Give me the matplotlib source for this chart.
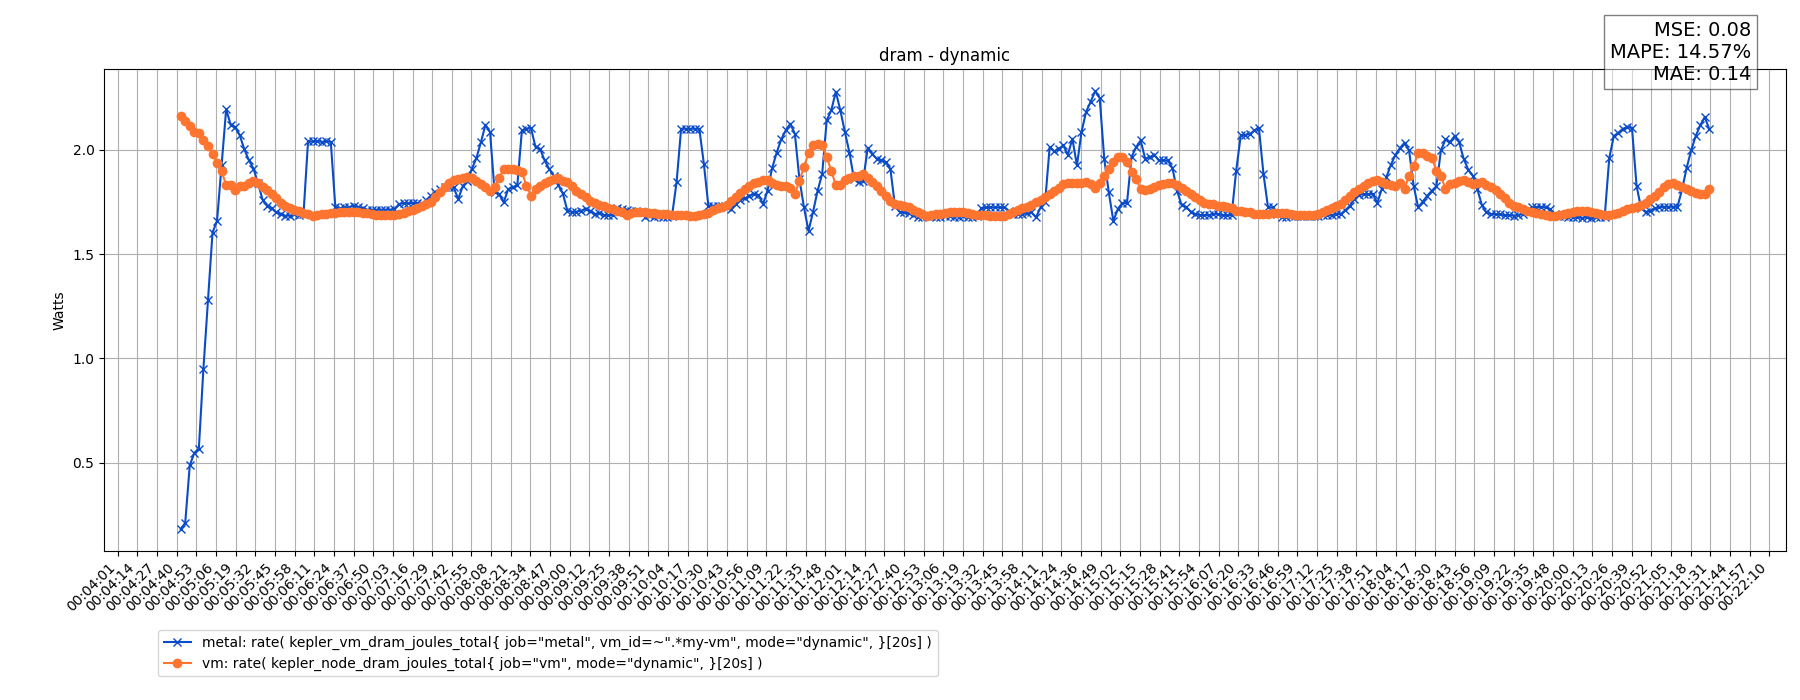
import numpy as np
import matplotlib
matplotlib.use("Agg")
import matplotlib.pyplot as plt

# ---------------- data ----------------
title = "dram - dynamic"
ylabel = "Watts"
metal_label = 'metal: rate( kepler_vm_dram_joules_total{ job="metal", vm_id=~".*my-vm", mode="dynamic", }[20s] )'
vm_label = 'vm: rate( kepler_node_dram_joules_total{ job="vm", mode="dynamic", }[20s] )'
metrics_text = "MSE: 0.08\nMAPE: 14.57%\nMAE: 0.14"

sample_start_s = 283.3   # first sample (seconds after 00:00:00)
sample_step_s = 3.0

metal = [
    0.182, 0.211, 0.487, 0.547, 0.568, 0.950, 1.279, 1.603, 1.660, 1.928,
    2.194, 2.120, 2.109, 2.069, 2.002, 1.950, 1.910, 1.840, 1.761, 1.732,
    1.719, 1.700, 1.692, 1.684, 1.684, 1.692, 1.689, 1.692, 2.040, 2.040,
    2.042, 2.038, 2.040, 2.038, 1.724, 1.719, 1.724, 1.724, 1.732, 1.727,
    1.719, 1.713, 1.713, 1.713, 1.713, 1.713, 1.713, 1.716, 1.740, 1.745,
    1.745, 1.745, 1.745, 1.740, 1.760, 1.780, 1.800, 1.810, 1.820, 1.820,
    1.820, 1.764, 1.825, 1.852, 1.908, 1.960, 2.037, 2.120, 2.085, 1.800,
    1.788, 1.748, 1.812, 1.820, 1.831, 2.093, 2.101, 2.104, 2.013, 2.005,
    1.949, 1.908, 1.876, 1.831, 1.791, 1.708, 1.703, 1.703, 1.708, 1.716,
    1.708, 1.692, 1.695, 1.687, 1.687, 1.687, 1.719, 1.716, 1.713, 1.708,
    1.708, 1.700, 1.680, 1.687, 1.680, 1.684, 1.680, 1.680, 1.684, 1.844,
    2.101, 2.101, 2.101, 2.101, 2.101, 1.933, 1.729, 1.732, 1.732, 1.729,
    1.724, 1.716, 1.740, 1.761, 1.767, 1.780, 1.788, 1.783, 1.740, 1.804,
    1.912, 1.986, 2.050, 2.093, 2.125, 2.077, 1.860, 1.724, 1.611, 1.703,
    1.804, 1.884, 2.141, 2.189, 2.278, 2.189, 2.085, 1.986, 1.860, 1.844,
    1.850, 2.008, 1.981, 1.957, 1.949, 1.941, 1.908, 1.732, 1.703, 1.700,
    1.695, 1.687, 1.680, 1.676, 1.684, 1.684, 1.680, 1.680, 1.684, 1.684,
    1.680, 1.680, 1.684, 1.680, 1.680, 1.684, 1.719, 1.724, 1.724, 1.724,
    1.724, 1.724, 1.708, 1.692, 1.692, 1.692, 1.695, 1.700, 1.676, 1.724,
    1.748, 2.013, 1.992, 2.005, 2.021, 1.976, 2.053, 1.925, 2.085, 2.181,
    2.230, 2.281, 2.249, 1.957, 1.796, 1.660, 1.716, 1.745, 1.745, 1.965,
    2.013, 2.045, 1.957, 1.965, 1.976, 1.949, 1.949, 1.949, 1.912, 1.804,
    1.735, 1.727, 1.703, 1.692, 1.687, 1.687, 1.687, 1.692, 1.692, 1.687,
    1.687, 1.687, 1.900, 2.069, 2.072, 2.075, 2.093, 2.104, 1.884, 1.724,
    1.724, 1.692, 1.680, 1.680, 1.684, 1.684, 1.684, 1.684, 1.684, 1.684,
    1.684, 1.687, 1.687, 1.687, 1.692, 1.692, 1.711, 1.732, 1.764, 1.783,
    1.788, 1.788, 1.788, 1.745, 1.812, 1.868, 1.928, 1.976, 2.008, 2.034,
    1.997, 1.828, 1.724, 1.751, 1.780, 1.804, 1.825, 1.997, 2.050, 2.037,
    2.066, 2.037, 1.957, 1.905, 1.876, 1.812, 1.735, 1.700, 1.692, 1.692,
    1.690, 1.687, 1.687, 1.684, 1.687, 1.692, 1.708, 1.724, 1.724, 1.727,
    1.724, 1.716, 1.692, 1.684, 1.684, 1.679, 1.680, 1.676, 1.674, 1.676,
    1.671, 1.676, 1.676, 1.680, 1.960, 2.066, 2.082, 2.101, 2.109, 2.104,
    1.828, 1.720, 1.703, 1.708, 1.719, 1.725, 1.727, 1.727, 1.727, 1.727,
    1.810, 1.912, 1.997, 2.066, 2.117, 2.157, 2.098,
]

vm = [
    2.162, 2.138, 2.112, 2.085, 2.082, 2.045, 2.018, 1.981, 1.936, 1.897,
    1.831, 1.831, 1.809, 1.825, 1.828, 1.841, 1.849, 1.841, 1.823, 1.807,
    1.788, 1.767, 1.743, 1.729, 1.721, 1.713, 1.705, 1.697, 1.690, 1.685,
    1.689, 1.690, 1.693, 1.695, 1.698, 1.701, 1.703, 1.701, 1.700, 1.700,
    1.698, 1.695, 1.692, 1.689, 1.687, 1.687, 1.687, 1.687, 1.690, 1.697,
    1.705, 1.713, 1.721, 1.729, 1.738, 1.750, 1.772, 1.800, 1.822, 1.842,
    1.855, 1.860, 1.867, 1.872, 1.864, 1.850, 1.836, 1.820, 1.802, 1.820,
    1.865, 1.908, 1.908, 1.908, 1.905, 1.892, 1.828, 1.780, 1.812, 1.828,
    1.839, 1.849, 1.860, 1.863, 1.852, 1.844, 1.828, 1.804, 1.788, 1.772,
    1.756, 1.745, 1.735, 1.729, 1.722, 1.716, 1.708, 1.700, 1.689, 1.695,
    1.700, 1.700, 1.700, 1.697, 1.695, 1.692, 1.692, 1.690, 1.689, 1.689,
    1.689, 1.687, 1.684, 1.684, 1.687, 1.690, 1.698, 1.711, 1.719, 1.724,
    1.737, 1.756, 1.772, 1.791, 1.812, 1.828, 1.841, 1.847, 1.857, 1.855,
    1.841, 1.831, 1.828, 1.825, 1.815, 1.788, 1.852, 1.917, 1.986, 2.021,
    2.026, 2.021, 1.965, 1.900, 1.831, 1.831, 1.855, 1.865, 1.873, 1.876,
    1.884, 1.867, 1.847, 1.825, 1.801, 1.777, 1.756, 1.740, 1.735, 1.732,
    1.724, 1.713, 1.700, 1.692, 1.684, 1.687, 1.690, 1.692, 1.697, 1.703,
    1.703, 1.700, 1.700, 1.695, 1.690, 1.687, 1.687, 1.687, 1.684, 1.684,
    1.682, 1.684, 1.690, 1.700, 1.711, 1.721, 1.727, 1.737, 1.748, 1.761,
    1.772, 1.786, 1.802, 1.819, 1.835, 1.841, 1.841, 1.839, 1.841, 1.844,
    1.835, 1.819, 1.841, 1.876, 1.908, 1.941, 1.965, 1.965, 1.941, 1.896,
    1.860, 1.812, 1.809, 1.812, 1.823, 1.831, 1.835, 1.839, 1.839, 1.831,
    1.819, 1.802, 1.788, 1.772, 1.760, 1.745, 1.740, 1.738, 1.733, 1.729,
    1.725, 1.719, 1.709, 1.705, 1.703, 1.700, 1.693, 1.692, 1.690, 1.692,
    1.695, 1.698, 1.698, 1.695, 1.692, 1.689, 1.687, 1.687, 1.687, 1.689,
    1.693, 1.702, 1.711, 1.719, 1.729, 1.740, 1.759, 1.777, 1.796, 1.812,
    1.825, 1.839, 1.852, 1.855, 1.847, 1.836, 1.831, 1.828, 1.841, 1.812,
    1.876, 1.921, 1.986, 1.986, 1.969, 1.961, 1.900, 1.876, 1.812, 1.836,
    1.843, 1.852, 1.857, 1.847, 1.836, 1.839, 1.844, 1.831, 1.820, 1.806,
    1.790, 1.769, 1.745, 1.733, 1.725, 1.717, 1.709, 1.701, 1.697, 1.692,
    1.687, 1.684, 1.684, 1.687, 1.692, 1.695, 1.700, 1.705, 1.708, 1.706,
    1.703, 1.697, 1.692, 1.689, 1.687, 1.690, 1.698, 1.706, 1.714, 1.721,
    1.727, 1.735, 1.746, 1.762, 1.780, 1.799, 1.820, 1.838, 1.841, 1.831,
    1.820, 1.811, 1.801, 1.793, 1.788, 1.790, 1.812,
]

tick_labels = [
    "00:04:01", "00:04:14", "00:04:27", "00:04:40", "00:04:53", "00:05:06",
    "00:05:19", "00:05:32", "00:05:45", "00:05:58", "00:06:11", "00:06:24",
    "00:06:37", "00:06:50", "00:07:03", "00:07:16", "00:07:29", "00:07:42",
    "00:07:55", "00:08:08", "00:08:21", "00:08:34", "00:08:47", "00:09:00",
    "00:09:12", "00:09:25", "00:09:38", "00:09:51", "00:10:04", "00:10:17",
    "00:10:30", "00:10:43", "00:10:56", "00:11:09", "00:11:22", "00:11:35",
    "00:11:48", "00:12:01", "00:12:14", "00:12:27", "00:12:40", "00:12:53",
    "00:13:06", "00:13:19", "00:13:32", "00:13:45", "00:13:58", "00:14:11",
    "00:14:24", "00:14:36", "00:14:49", "00:15:02", "00:15:15", "00:15:28",
    "00:15:41", "00:15:54", "00:16:07", "00:16:20", "00:16:33", "00:16:46",
    "00:16:59", "00:17:12", "00:17:25", "00:17:38", "00:17:51", "00:18:04",
    "00:18:17", "00:18:30", "00:18:43", "00:18:56", "00:19:09", "00:19:22",
    "00:19:35", "00:19:48", "00:20:00", "00:20:13", "00:20:26", "00:20:39",
    "00:20:52", "00:21:05", "00:21:18", "00:21:31", "00:21:44", "00:21:57",
    "00:22:10",
]
tick_first_s = 241.7
tick_last_s = 1330.8

# ---------------- plot ----------------
fig = plt.figure(figsize=(18, 7), dpi=100)
ax = fig.add_axes([0.0579, 0.2129, 0.9921 - 0.0579, 0.901 - 0.2129])

t_metal = sample_start_s + sample_step_s * np.arange(len(metal))
t_vm = sample_start_s + sample_step_s * np.arange(len(vm))

ax.plot(t_metal, metal, marker="x", color="#0a4bc8", label=metal_label)
ax.plot(t_vm, vm, marker="o", color="#ff7530", label=vm_label)

ax.set_xticks(np.linspace(tick_first_s, tick_last_s, len(tick_labels)))
ax.set_xticklabels(tick_labels, rotation=45, ha="right")
ax.grid(True)
ax.set_title(title)
ax.set_ylabel(ylabel)

fig.legend(loc="upper left", bbox_to_anchor=(158 / 1800, 1 - 630 / 700),
           borderaxespad=0)

fig.text(1751 / 1800, 1 - 20.8 / 700, metrics_text, ha="right", va="top",
         fontsize=14, bbox=dict(facecolor="white", alpha=0.5))

fig.savefig("out.png", dpi=100)
